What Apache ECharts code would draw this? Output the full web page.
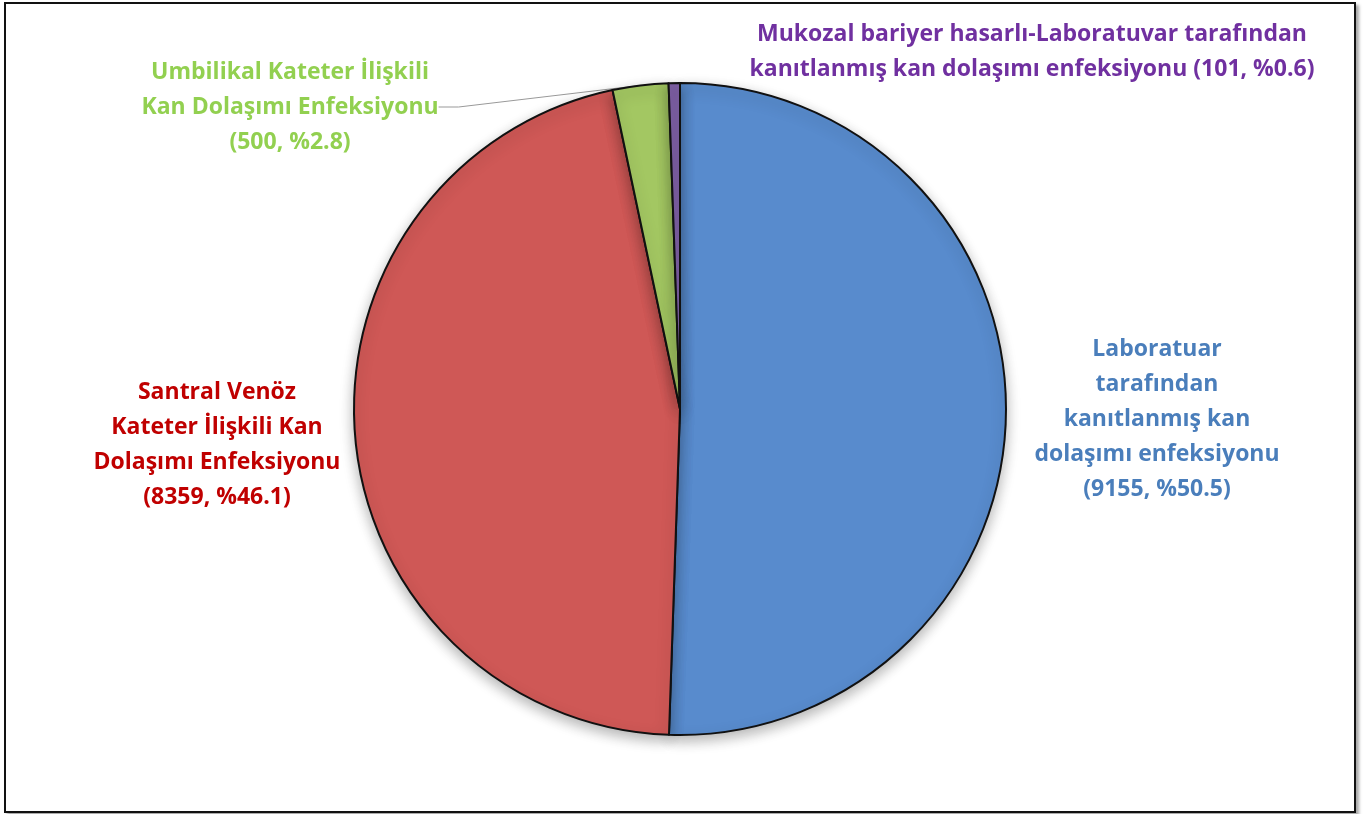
<!DOCTYPE html>
<html>
<head>
<meta charset="utf-8">
<script src="https://cdn.jsdelivr.net/npm/echarts@6/dist/echarts.min.js"></script>
<style>
  html, body { margin: 0; padding: 0; background: #fff; }
  .frame {
    position: absolute; left: 4px; top: 2px; width: 1348px; height: 807px;
    border: 2px solid #111; box-shadow: 3px 3px 3px rgba(0,0,0,0.35);
  }
  #chart { width: 1348px; height: 807px; }
</style>
</head>
<body>
<div class="frame"><div id="chart"></div></div>
<script>
  // dilimler saat yönünde, saat 12'den başlayarak
  const names = [
    'Laboratuar\ntarafından\nkanıtlanmış kan\ndolaşımı enfeksiyonu',
    'Santral Venöz\nKateter İlişkili Kan\nDolaşımı Enfeksiyonu',
    'Umbilikal Kateter İlişkili\nKan Dolaşımı Enfeksiyonu',
    'Mukozal bariyer hasarlı-Laboratuvar tarafından\nkanıtlanmış kan dolaşımı enfeksiyonu'
  ]
  const values = [9155, 8359, 500, 101]
  const sliceColors = ['#588bcd', '#cf5856', '#a3c762', '#7d5fa4']
  const labelColors = ['#4a7ebb', '#c00000', '#92d050', '#7030a0']
  const labelSep = ['\n', '\n', '\n', ' ']
  // etiket merkezleri (kap içi piksel)
  const labelPos = [[1151, 415], [211, 441], [284, 103], [1026, 48]]

  const chart = echarts.init(document.getElementById('chart'))
  const option = {
    animation: false,
    series: [{
      type: 'pie',
      center: [674, 405],
      radius: 326,
      startAngle: 90,
      clockwise: true,
      avoidLabelOverlap: false,
      itemStyle: {
        borderColor: '#111',
        borderWidth: 2,
        shadowBlur: 14,
        shadowColor: 'rgba(0,0,0,0.3)',
        shadowOffsetY: 5
      },
      label: {
        position: 'outside',
        fontFamily: '"Open Sans", sans-serif',
        fontWeight: 'bold',
        fontSize: 23,
        lineHeight: 35,
        align: 'center',
        formatter: p => p.name + labelSep[p.dataIndex] + '(' + p.value + ', %' + p.percent.toFixed(1) + ')'
      },
      labelLine: { show: false },
      labelLayout: p => ({
        x: labelPos[p.dataIndex][0],
        y: labelPos[p.dataIndex][1],
        align: 'center',
        verticalAlign: 'middle'
      }),
      data: values.map((v, i) => ({
        name: names[i],
        value: v,
        itemStyle: { color: sliceColors[i] },
        label: { color: labelColors[i] },
        labelLine: i === 2
          ? { show: true, length: 20, length2: 20, lineStyle: { color: '#999', width: 1 } }
          : { show: false }
      }))
    }]
  }
  chart.setOption(option)
  window.addEventListener('resize', () => chart.resize())
</script>
</body>
</html>
